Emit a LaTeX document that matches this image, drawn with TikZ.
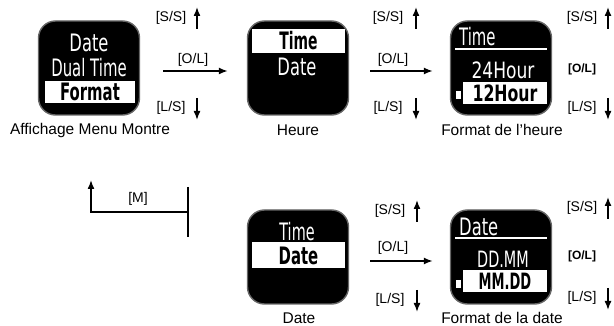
\documentclass[tikz,border=0pt]{standalone}
\usepackage{fontspec}
\usepackage{graphicx}
\setmainfont{Liberation Sans}
\newfontfamily\lcdfont{DejaVu Sans}
\usetikzlibrary{arrows.meta}
% condensed screen lettering
\newcommand{\lcd}[2][0.66]{\scalebox{#1}[1]{\lcdfont #2}}
\begin{document}
\begin{tikzpicture}[
        x=1pt, y=-1pt,
        screen/.style={rectangle, rounded corners=17pt, fill=black, draw=black!60, line width=1.4pt, minimum width=101pt, minimum height=94pt, inner sep=0pt},
        lcdtext/.style={text=white, inner sep=0pt, font=\fontsize{24}{24}\selectfont},
        hilite/.style={rectangle, fill=white, text=black, inner sep=0pt, font=\fontsize{24}{24}\selectfont\bfseries},
        caption/.style={font=\fontsize{15.5}{16}\selectfont, inner sep=0pt},
        keylabel/.style={font=\fontsize{14}{15}\selectfont, inner sep=0pt},
        okbold/.style={font=\fontsize{12}{13}\selectfont\bfseries, inner sep=0pt},
        keyarrow/.style={-{Latex[length=9pt,width=7pt]}, line width=1.5pt}
    ]
        \useasboundingbox (0,0) rectangle (614,326);

        % Menu screen
        \node[screen] (menu) at (89,68) {};
        \node[lcdtext] (menu_date) at (89,43) {\lcd[0.68]{Date}};
        \node[lcdtext] (menu_dual) at (89,68) {\lcd[0.62]{Dual Time}};
        \node[hilite, minimum width=90pt, minimum height=22pt] (menu_fmt) at (90,92) {\lcd[0.62]{Format}};
        \node[caption] (menu_cap) at (90,130) {Affichage Menu Montre};

        % Heure screen
        \node[screen] (heure) at (298,68) {};
        \node[hilite, minimum width=93pt, minimum height=24pt] (heure_time) at (298.5,41) {\lcd[0.58]{Time}};
        \node[lcdtext] (heure_date) at (297,67) {\lcd[0.68]{Date}};
        \node[caption] (heure_cap) at (298,130) {Heure};

        % Format de l'heure screen
        \node[screen] (fmth) at (501,68) {};
        \node[lcdtext, anchor=west] (fmth_title) at (459,36.5) {\lcd[0.62]{Time}};
        \draw[white, line width=1.8pt] (455,49) -- (547,49);
        \node[lcdtext, font=\fontsize{22.5}{22}\selectfont] (fmth_24) at (503,70.5) {\lcd[0.76]{24Hour}};
        \node[hilite, minimum width=84pt, minimum height=22pt, font=\fontsize{22.5}{22}\selectfont\bfseries] (fmth_12) at (505,93) {\lcd[0.7]{12Hour}};
        \fill[white] (456,91) rectangle (461,99);
        \node[caption] (fmth_cap) at (502,130) {Format de l'heure};

        % Date screen
        \node[screen] (date) at (298,257) {};
        \node[lcdtext] (date_time) at (297,232) {\lcd[0.6]{Time}};
        \node[hilite, minimum width=93pt, minimum height=26pt] (date_date) at (298.5,255.5) {\lcd[0.62]{Date}};
        \node[caption] (date_cap) at (299,318) {Date};

        % Format de la date screen
        \node[screen] (fmtd) at (501,257) {};
        \node[lcdtext, anchor=west] (fmtd_title) at (459,226.5) {\lcd[0.68]{Date}};
        \draw[white, line width=1.8pt] (455,238) -- (547,238);
        \node[lcdtext, font=\fontsize{22.5}{22}\selectfont] (fmtd_ddmm) at (503,259) {\lcd[0.64]{DD.MM}};
        \node[hilite, minimum width=84pt, minimum height=22pt, font=\fontsize{22.5}{22}\selectfont\bfseries] (fmtd_mmdd) at (505,281) {\lcd[0.58]{MM.DD}};
        \fill[white] (456,280) rectangle (461,288);
        \node[caption] (fmtd_cap) at (502,318) {Format de la date};

        % [O/L] arrows between screens
        \draw[keyarrow, shorten <=23pt, shorten >=19pt] ([yshift=-3pt]menu.east) -- ([yshift=-3pt]heure.west);
        \node[keylabel] (ol1) at (193,60) {[O/L]};
        \draw[keyarrow, shorten <=21pt, shorten >=17pt] ([yshift=-3pt]heure.east) -- ([yshift=-3pt]fmth.west);
        \node[keylabel] (ol2) at (393,60) {[O/L]};
        \draw[keyarrow, shorten <=21pt, shorten >=17pt] ([yshift=-4pt]date.east) -- ([yshift=-4pt]fmtd.west);
        \node[keylabel] (ol3) at (393,248) {[O/L]};
        \node[okbold] (ol4) at (582,69) {[O/L]};
        \node[okbold] (ol5) at (582,256) {[O/L]};

        % [S/S] up and [L/S] down
        \foreach \n/\lx/\ax/\ys/\yl in {1/171/197/18/108, 2/388/416/18/108, 3/582/608/18/108, 4/390/417/211/300, 5/582/608/208/298} {
            \node[keylabel] (ss\n) at (\lx,\ys) {[S/S]};
            \coordinate (ssa\n) at (\ax,\ys+11);
            \coordinate (ssb\n) at (\ax,\ys-11);
            \draw[keyarrow] (ssa\n) -- (ssb\n);
            \node[keylabel] (ls\n) at (\lx,\yl) {[L/S]};
            \coordinate (lsa\n) at (\ax,\yl-10);
            \coordinate (lsb\n) at (\ax,\yl+12);
            \draw[keyarrow] (lsa\n) -- (lsb\n);
        }

        % [M] back to menu
        \coordinate (m_top) at (188,187);
        \coordinate (m_bot) at (188,237);
        \coordinate (m_join) at (188,212);
        \coordinate (m_end) at (91,180);
        \draw[line width=1.5pt] (m_top) -- (m_bot);
        \draw[keyarrow] (m_join) -| (m_end);
        \node[keylabel] (mlabel) at (138,199) {[M]};

\end{tikzpicture}
\end{document}
